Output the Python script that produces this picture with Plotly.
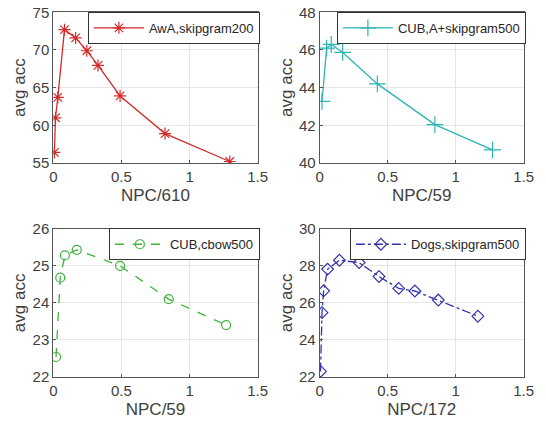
import plotly.graph_objects as go

# Panel 1: AwA, skipgram200
x1 = [0.008, 0.016, 0.033, 0.082, 0.164, 0.246, 0.328, 0.49, 0.82, 1.295]
y1 = [56.4, 61.0, 63.7, 72.7, 71.6, 69.9, 67.95, 63.9, 58.9, 55.2]
# Panel 2: CUB, A+skipgram500
x2 = [0.017, 0.051, 0.085, 0.169, 0.424, 0.847, 1.271]
y2 = [43.27, 46.1, 46.3, 45.87, 44.2, 42.04, 40.7]
# Panel 3: CUB, cbow500
x3 = [0.02, 0.051, 0.085, 0.172, 0.49, 0.847, 1.268]
y3 = [22.54, 24.68, 25.28, 25.43, 25.0, 24.1, 23.4]
# Panel 4: Dogs, skipgram500
x4 = [0.006, 0.017, 0.029, 0.058, 0.145, 0.29, 0.436, 0.581, 0.70, 0.872, 1.163]
y4 = [22.3, 25.47, 26.65, 27.82, 28.3, 28.17, 27.42, 26.78, 26.64, 26.15, 25.28]

names = ["AwA,skipgram200", "CUB,A+skipgram500", "CUB,cbow500", "Dogs,skipgram500"]
xtitles = ["NPC/610", "NPC/59", "NPC/59", "NPC/172"]
yranges = [[55, 75], [40, 48], [22, 26], [22, 30]]
ydticks = [5, 2, 1, 2]
colors = ["#d42a2a", "#2bb5b5", "#3cb43c", "#3434a8"]
symbols = ["asterisk-open", "cross-thin-open", "circle-open", "diamond-open"]
dashes = ["solid", "solid", "dash", "dashdot"]
msizes = [10, 12, 9, 9]

xs = [x1, x2, x3, x4]
ys = [y1, y2, y3, y4]

W, H = 546, 424
xdom = [[53.3 / W, 257.7 / W], [319.7 / W, 523.7 / W]]
ydom = [[1 - 163.0 / H, 1 - 12.3 / H], [1 - 377.0 / H, 1 - 228.7 / H]]

fig = go.Figure()
fontfam = "Liberation Sans, Arial, sans-serif"
txtcol = "#404040"

for i in range(4):
    r, c = divmod(i, 2)
    sfx = "" if i == 0 else str(i + 1)
    lg = "legend" if i == 0 else "legend" + str(i + 1)
    fig.add_trace(go.Scatter(
        x=xs[i], y=ys[i], mode="lines+markers", name=names[i],
        xaxis="x" + sfx, yaxis="y" + sfx, legend=lg,
        line=dict(color=colors[i], width=1.3, dash=dashes[i]),
        marker=dict(symbol=symbols[i], size=msizes[i],
                    line=dict(color=colors[i], width=1.2), color=colors[i]),
    ))
    xa = dict(domain=xdom[c], range=[0, 1.5], dtick=0.5, tick0=0,
              anchor="y" + sfx, showgrid=True, gridcolor="#e6e6e6",
              showline=True, mirror=True, linecolor="#555555", linewidth=1,
              ticks="inside", ticklen=3, tickcolor="#555555",
              tickfont=dict(size=15, color=txtcol, family=fontfam),
              zeroline=False, automargin=False,
              title=dict(text=xtitles[i], font=dict(size=17, color=txtcol, family=fontfam), standoff=5))
    ya = dict(domain=ydom[r], range=yranges[i], dtick=ydticks[i],
              anchor="x" + sfx, showgrid=True, gridcolor="#e6e6e6",
              showline=True, mirror=True, linecolor="#555555", linewidth=1,
              ticks="inside", ticklen=3, tickcolor="#555555",
              tickfont=dict(size=15, color=txtcol, family=fontfam),
              zeroline=False, automargin=False,
              title=dict(text="avg acc", font=dict(size=17, color=txtcol, family=fontfam), standoff=2))
    fig.layout["xaxis" + sfx] = xa
    fig.layout["yaxis" + sfx] = ya
    fig.layout[lg] = dict(x=xdom[c][1] + 0.004, y=ydom[r][1] + 0.001, xanchor="right", yanchor="top",
                          bgcolor="white", bordercolor="#333333", borderwidth=1,
                          font=dict(size=13, color="#262626", family=fontfam),
                          itemwidth=50, tracegroupgap=0)

fig.update_layout(template="none", width=W, height=H, margin=dict(l=0, r=0, t=0, b=0, pad=0),
                  paper_bgcolor="white", plot_bgcolor="white", showlegend=True)

fig.write_html("out.html", config={"displayModeBar": False},
               post_script="document.body.style.margin='0';document.body.style.overflow='hidden';")
